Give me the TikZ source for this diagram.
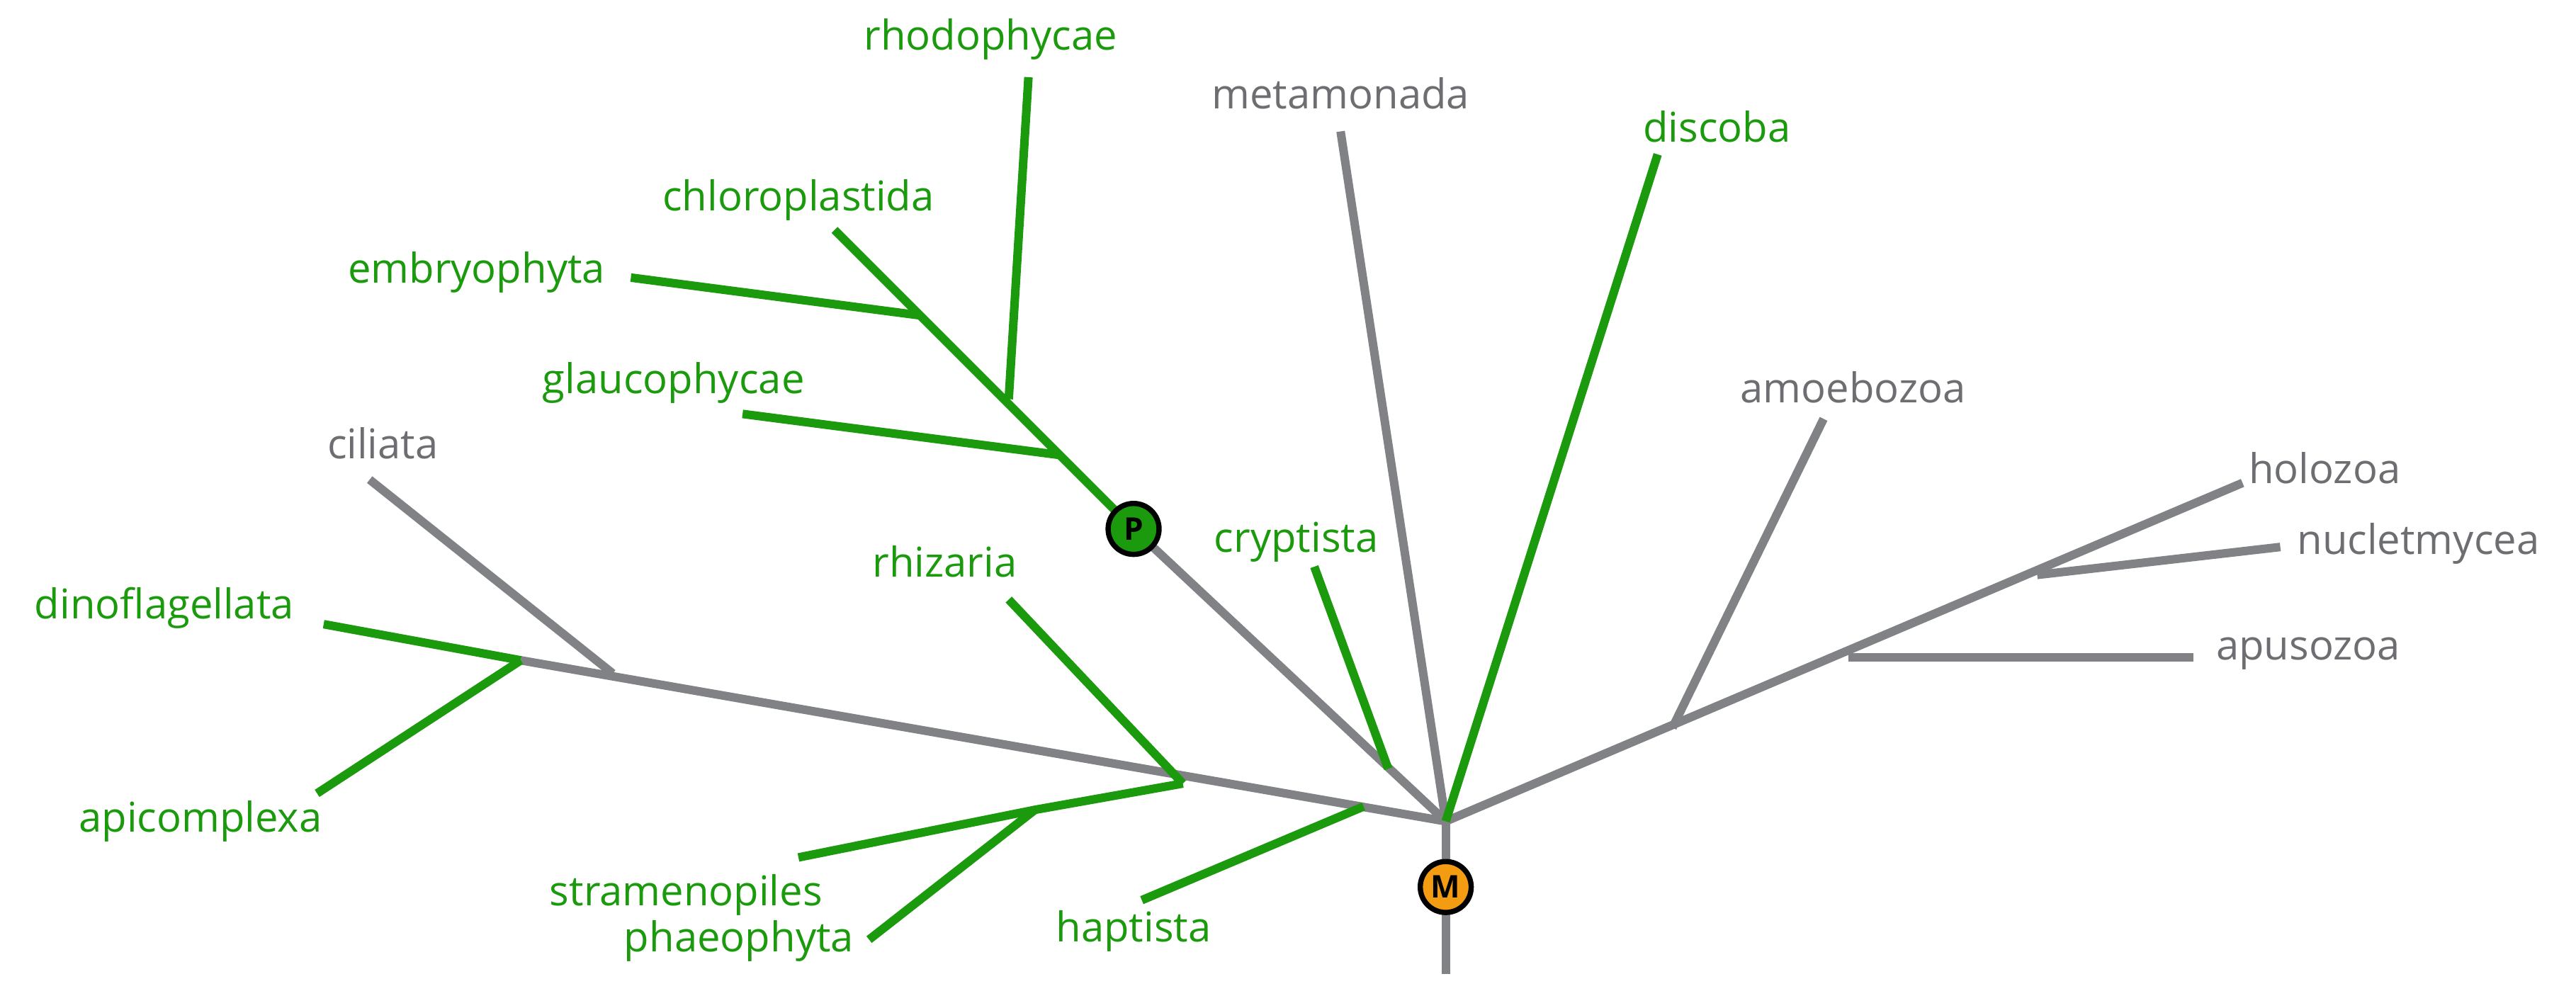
\documentclass[tikz,border=0pt]{standalone}
\usepackage{fontspec}
\setmainfont{Open Sans}
\definecolor{gr}{HTML}{1C9A0E}
\definecolor{gy}{HTML}{808285}
\definecolor{gt}{HTML}{6D6E71}
\definecolor{orng}{HTML}{F39C12}
\begin{document}
\begin{tikzpicture}[x=0.5pt,y=-0.5pt,
 gline/.style={draw=gr,line width=2.6pt},
 yline/.style={draw=gy,line width=2.6pt},
 gl/.style={text=gr,font=\fontsize{12.5}{14}\selectfont,inner sep=0pt},
 yl/.style={text=gt,font=\fontsize{12.5}{14}\selectfont,inner sep=0pt},
 mark circ/.style={circle,draw=black,line width=1.6pt,minimum size=15.5pt,inner sep=0pt,font=\bfseries\fontsize{9.5}{10}\selectfont}]
\useasboundingbox (0,0) rectangle (1568,603.3);
\coordinate (root) at (880,500);
\coordinate (bot) at (880,593);
\coordinate (hb) at (830,491);
\coordinate (sb) at (720,477);
\coordinate (cb) at (373,410);
\coordinate (db) at (317,402);
\coordinate (sb2) at (630,493);
\coordinate (cr) at (845,468);
\coordinate (p) at (690,322);
\coordinate (gb) at (645,277);
\coordinate (rb) at (614,243);
\coordinate (eb) at (560,192);
\coordinate (ab) at (1018,443);
\coordinate (apb) at (1125,400);
\coordinate (nb) at (1240,350);
\coordinate (ecil) at (225,292);
\coordinate (edino) at (197,380);
\coordinate (eapi) at (193,483);
\coordinate (erhiz) at (614,365);
\coordinate (estr) at (486,522);
\coordinate (ephae) at (529,572);
\coordinate (ehap) at (695,548);
\coordinate (echl) at (508,140);
\coordinate (eglau) at (452,252);
\coordinate (erho) at (626,47);
\coordinate (eemb) at (384,169);
\coordinate (ecry) at (800,345);
\coordinate (emeta) at (816,80);
\coordinate (edisc) at (1009,94);
\coordinate (ehol) at (1365,294);
\coordinate (eamo) at (1110,255);
\coordinate (eapu) at (1335,400);
\coordinate (enuc) at (1388,333);
\draw[yline] (bot) -- (root);
\draw[yline] (root) -- (db);
\draw[yline] (cb) -- (ecil);
\draw[yline] (root) -- (p);
\draw[yline] (root) -- (emeta);
\draw[yline] (root) -- (ehol);
\draw[yline] (ab) -- (eamo);
\draw[yline] (apb) -- (eapu);
\draw[yline] (nb) -- (enuc);
\draw[gline] (db) -- (edino);
\draw[gline] (db) -- (eapi);
\draw[gline] (sb) -- (erhiz);
\draw[gline] (sb) -- (sb2) -- (estr);
\draw[gline] (sb2) -- (ephae);
\draw[gline] (hb) -- (ehap);
\draw[gline] (p) -- (echl);
\draw[gline] (gb) -- (eglau);
\draw[gline] (rb) -- (erho);
\draw[gline] (eb) -- (eemb);
\draw[gline] (cr) -- (ecry);
\draw[gline] (root) -- (edisc);
\node[mark circ,fill=gr] (P) at (p) {P};
\node[mark circ,fill=orng] (M) at (880,540) {M};
\node[gl] (l1) at (603,24) {rhodophycae};
\node[yl] (l2) at (816,57) {metamonada};
\node[gl] (l3) at (1045,77) {discoba};
\node[gl] (l4) at (486,122) {chloroplastida};
\node[gl] (l5) at (290,166) {embryophyta};
\node[gl] (l6) at (410,233) {glaucophycae};
\node[yl] (l7) at (1128,236) {amoebozoa};
\node[yl] (l8) at (233,270) {ciliata};
\node[yl] (l9) at (1415,285) {holozoa};
\node[yl] (l10) at (1472,331) {nucletmycea};
\node[yl] (l11) at (1405,398) {apusozoa};
\node[gl] (l12) at (100,370) {dinoflagellata};
\node[gl] (l13) at (789,330) {cryptista};
\node[gl] (l14) at (575,342) {rhizaria};
\node[gl] (l15) at (122,500) {apicomplexa};
\node[gl,anchor=east] (l16) at (501,545) {stramenopiles};
\node[gl,anchor=east] (l17) at (520,573) {phaeophyta};
\node[gl] (l18) at (690,567) {haptista};
\end{tikzpicture}
\end{document}
